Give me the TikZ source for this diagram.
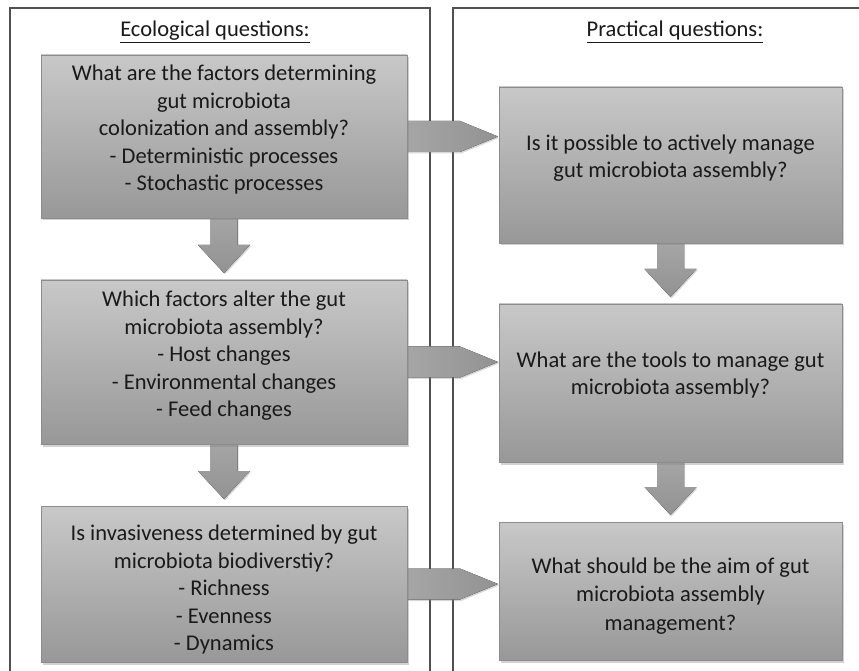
\documentclass[tikz,border=0pt]{standalone}
\usepackage{fontspec}
\setmainfont{Carlito}
\usetikzlibrary{calc,shadows}
\definecolor{boxtop}{HTML}{C8C8C8}
\definecolor{boxbot}{HTML}{989898}
\definecolor{boxline}{HTML}{8C8C8C}
\definecolor{arrtop}{HTML}{A6A6A6}
\definecolor{arrbot}{HTML}{929292}
\definecolor{panelline}{HTML}{505050}
\definecolor{txt}{HTML}{1A1A1A}
\pgfdeclarelayer{panels}
\pgfdeclarelayer{arrows}
\pgfsetlayers{panels,arrows,main}
\tikzset{
  qbox/.style={rectangle, draw=boxline, line width=0.6pt, top color=boxtop, bottom color=boxbot,
    inner sep=0pt, outer sep=0pt,
    drop shadow={opacity=0.35, shadow xshift=1.5pt, shadow yshift=-2.5pt}},
  qtext/.style={align=center, text=txt, font=\fontsize{22.5}{27.5}\selectfont, inner sep=0pt},
  ttext/.style={text=txt, font=\fontsize{22.5}{27.5}\selectfont, inner sep=0pt, anchor=base},
  varrow/.style={top color=arrtop, bottom color=arrbot, draw=none,
    drop shadow={opacity=0.3, shadow xshift=1pt, shadow yshift=-1.5pt}},
  harrow/.style={left color=arrtop, right color=arrbot, draw=none,
    drop shadow={opacity=0.3, shadow xshift=1pt, shadow yshift=-1.5pt}},
  panel/.style={draw=panelline, line width=1.1pt}
}
\begin{document}
\begin{tikzpicture}[x=1pt,y=1pt]
\useasboundingbox (0,0) rectangle (859,670);

% titles
\node[ttext] (tl) at (215,633) {\underline{Ecological questions:}};
\node[ttext] (tr) at (675,633) {\underline{Practical questions:}};

% boxes
\node[qbox, minimum width=366pt, minimum height=163pt] (L1) at (224,533.5) {};
\node[qbox, minimum width=366pt, minimum height=164pt] (L2) at (224,308) {};
\node[qbox, minimum width=366pt, minimum height=156pt] (L3) at (224,86) {};
\node[qbox, minimum width=343pt, minimum height=156pt] (R1) at (670.5,505) {};
\node[qbox, minimum width=343pt, minimum height=158pt] (R2) at (670.5,287) {};
\node[qbox, minimum width=343pt, minimum height=138pt] (R3) at (670.5,79) {};

% texts
\node[qtext] (t1) at (224,540) {What are the factors determining\\gut microbiota\\colonization and assembly?\\- Deterministic processes\\- Stochastic processes};
\node[qtext] (t2) at (224,314) {Which factors alter the gut\\microbiota assembly?\\- Host changes\\- Environmental changes\\- Feed changes};
\node[qtext] (t3) at (224,80.5) {Is invasiveness determined by gut\\microbiota biodiverstiy?\\- Richness\\- Evenness\\- Dynamics};
\node[qtext] (t4) at (670.5,512) {Is it possible to actively manage\\gut microbiota assembly?};
\node[qtext] (t5) at (670.5,295) {What are the tools to manage gut\\microbiota assembly?};
\node[qtext, font=\fontsize{22.5}{28.5}\selectfont] (t6) at (670.5,74) {What should be the aim of gut\\microbiota assembly\\management?};

% panels
\begin{pgfonlayer}{panels}
  \fill[white] (0,0) rectangle (859,670);
  \coordinate (pl1) at (10,-3);
  \coordinate (pl2) at (10,662);
  \coordinate (pl3) at (430,662);
  \coordinate (pl4) at (430,-3);
  \coordinate (pr1) at (453,-3);
  \coordinate (pr2) at (453,662);
  \coordinate (pr3) at (863,662);
  \draw[panel] (pl1) -- (pl2) -- (pl3) -- (pl4);
  \draw[panel] (pr1) -- (pr2) -- (pr3);
\end{pgfonlayer}

% arrows
\begin{pgfonlayer}{arrows}
  % vertical
  \foreach \a/\b in {L1/L2, L2/L3, R1/R2, R2/R3}{
    \fill[varrow] ($(\a.south)+(-13.5,2)$) -- ($(\a.south)+(13.5,2)$)
      -- ($(\b.north)+(13.5,35)$) -- ($(\b.north)+(26,35)$)
      -- ($(\b.north)+(0,7)$)
      -- ($(\b.north)+(-26,35)$) -- ($(\b.north)+(-13.5,35)$) -- cycle;
  }
  % horizontal
  \foreach \a/\b in {L1/R1, L2/R2, L3/R3}{
    \fill[harrow] ($(\a.east)+(-2,15.5)$)
      -- ($(\b.west |- \a.east)+(-39,15.5)$)
      -- ($(\b.west |- \a.east)+(-1,0)$)
      -- ($(\b.west |- \a.east)+(-39,-15.5)$)
      -- ($(\a.east)+(-2,-15.5)$) -- cycle;
  }
\end{pgfonlayer}
\end{tikzpicture}
\end{document}
